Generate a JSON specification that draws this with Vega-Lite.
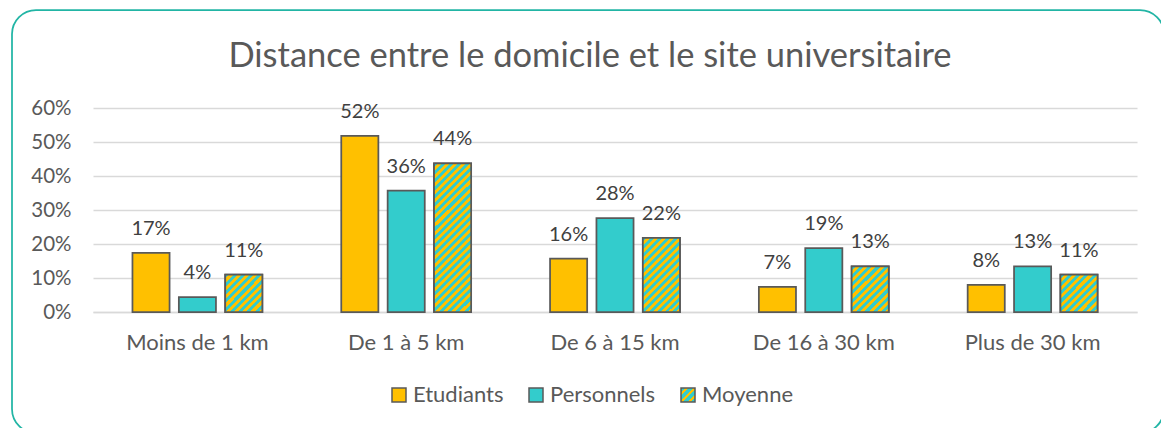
{
  "$schema": "https://vega.github.io/schema/vega-lite/v6.json",
  "width": 1152,
  "height": 423,
  "autosize": {"type": "none"},
  "padding": {"left": 12, "top": 10, "right": -3, "bottom": -5},
  "background": "white",
  "title": {
    "text": "Distance entre le domicile et le site universitaire",
    "fontSize": 34.5,
    "font": "Lato",
    "fontWeight": "normal",
    "color": "#595959",
    "anchor": "middle",
    "offset": -64,
    "dx": 2
  },
  "data": {
    "values": [
      {"category": "Moins de 1 km", "series": "Etudiants", "value": 0.174},
      {"category": "Moins de 1 km", "series": "Personnels", "value": 0.044},
      {"category": "Moins de 1 km", "series": "Moyenne", "value": 0.110},
      {"category": "De 1 à 5 km", "series": "Etudiants", "value": 0.518},
      {"category": "De 1 à 5 km", "series": "Personnels", "value": 0.357},
      {"category": "De 1 à 5 km", "series": "Moyenne", "value": 0.437},
      {"category": "De 6 à 15 km", "series": "Etudiants", "value": 0.157},
      {"category": "De 6 à 15 km", "series": "Personnels", "value": 0.276},
      {"category": "De 6 à 15 km", "series": "Moyenne", "value": 0.218},
      {"category": "De 16 à 30 km", "series": "Etudiants", "value": 0.074},
      {"category": "De 16 à 30 km", "series": "Personnels", "value": 0.188},
      {"category": "De 16 à 30 km", "series": "Moyenne", "value": 0.134},
      {"category": "Plus de 30 km", "series": "Etudiants", "value": 0.080},
      {"category": "Plus de 30 km", "series": "Personnels", "value": 0.134},
      {"category": "Plus de 30 km", "series": "Moyenne", "value": 0.110}
    ]
  },
  "encoding": {
    "x": {
      "field": "category",
      "type": "nominal",
      "sort": ["Moins de 1 km", "De 1 à 5 km", "De 6 à 15 km", "De 16 à 30 km", "Plus de 30 km"],
      "scale": {"range": [81, 1125], "paddingInner": 0.378, "paddingOuter": 0.189},
      "axis": {
        "orient": "bottom",
        "offset": -121,
        "title": null,
        "labelAngle": 0,
        "domainColor": "#D9D9D9",
        "domainWidth": 1.5,
        "ticks": false,
        "tickSize": 0,
        "labelPadding": 20,
        "labelFont": "Lato",
        "labelFontSize": 22,
        "labelColor": "#595959",
        "grid": false
      }
    },
    "xOffset": {
      "field": "series",
      "type": "nominal",
      "sort": ["Etudiants", "Personnels", "Moyenne"],
      "scale": {"domain": ["Etudiants", "Personnels", "Moyenne"], "paddingInner": 0.2, "paddingOuter": 0}
    },
    "y": {
      "field": "value",
      "type": "quantitative",
      "scale": {"domain": [0, 0.6], "range": [302, 98], "nice": false, "zero": true},
      "axis": {
        "title": null,
        "format": ".0%",
        "values": [0, 0.1, 0.2, 0.3, 0.4, 0.5, 0.6],
        "grid": true,
        "gridColor": "#D9D9D9",
        "gridWidth": 1.5,
        "domain": false,
        "ticks": false,
        "tickSize": 0,
        "labelPadding": 2,
        "offset": -61,
        "labelFont": "Lato",
        "labelFontSize": 20.5,
        "labelColor": "#595959"
      }
    }
  },
  "layer": [
    {
      "mark": {"type": "bar", "stroke": "#595959", "strokeWidth": 1.75},
      "encoding": {
        "color": {
          "field": "series",
          "type": "nominal",
          "scale": {
            "domain": ["Etudiants", "Personnels", "Moyenne"],
            "range": [
              "#FFC000",
              "#33CCCC",
              {"expr": "{gradient: 'linear', x1: 0, y1: 0, x2: 1, y2: 1, stops: [{offset: 0, color: '#33CCCC'}, {offset: 0.1429, color: '#33CCCC'}, {offset: 0.1429, color: '#FFC000'}, {offset: 0.2857, color: '#FFC000'}, {offset: 0.2857, color: '#33CCCC'}, {offset: 0.4286, color: '#33CCCC'}, {offset: 0.4286, color: '#FFC000'}, {offset: 0.5714, color: '#FFC000'}, {offset: 0.5714, color: '#33CCCC'}, {offset: 0.7143, color: '#33CCCC'}, {offset: 0.7143, color: '#FFC000'}, {offset: 0.8571, color: '#FFC000'}, {offset: 0.8571, color: '#33CCCC'}, {offset: 1, color: '#33CCCC'}]}"}
            ]
          },
          "legend": {
            "title": null,
            "orient": "none",
            "legendX": 376,
            "legendY": 374,
            "direction": "horizontal",
            "symbolType": "square",
            "symbolSize": 196,
            "symbolStrokeWidth": 1.5,
            "symbolOpacity": 1,
            "labelFont": "Lato",
            "labelFontSize": 22,
            "labelColor": "#595959",
            "labelOffset": 3,
            "columnPadding": 21,
            "padding": 0,
            "encode": {
              "symbols": {
                "update": {
                  "stroke": {"value": "#595959"},
                  "strokeWidth": {"value": 1.5}
                }
              }
            }
          }
        }
      }
    },
    {
      "transform": [{"filter": "datum.series === 'Moyenne' && (datum.category === 'Moins de 1 km' || datum.category === 'Plus de 30 km')"}],
      "mark": {
        "type": "bar", "stroke": "#595959", "strokeWidth": 1.75,
        "fill": {
          "gradient": "linear", "x1": 0, "y1": 0, "x2": 1, "y2": 1,
          "stops": [
            {"offset": 0, "color": "#33CCCC"}, {"offset": 0.0556, "color": "#33CCCC"},
            {"offset": 0.0556, "color": "#FFC000"}, {"offset": 0.1111, "color": "#FFC000"},
            {"offset": 0.1111, "color": "#33CCCC"}, {"offset": 0.1667, "color": "#33CCCC"},
            {"offset": 0.1667, "color": "#FFC000"}, {"offset": 0.2222, "color": "#FFC000"},
            {"offset": 0.2222, "color": "#33CCCC"}, {"offset": 0.2778, "color": "#33CCCC"},
            {"offset": 0.2778, "color": "#FFC000"}, {"offset": 0.3333, "color": "#FFC000"},
            {"offset": 0.3333, "color": "#33CCCC"}, {"offset": 0.3889, "color": "#33CCCC"},
            {"offset": 0.3889, "color": "#FFC000"}, {"offset": 0.4444, "color": "#FFC000"},
            {"offset": 0.4444, "color": "#33CCCC"}, {"offset": 0.5, "color": "#33CCCC"},
            {"offset": 0.5, "color": "#FFC000"}, {"offset": 0.5556, "color": "#FFC000"},
            {"offset": 0.5556, "color": "#33CCCC"}, {"offset": 0.6111, "color": "#33CCCC"},
            {"offset": 0.6111, "color": "#FFC000"}, {"offset": 0.6667, "color": "#FFC000"},
            {"offset": 0.6667, "color": "#33CCCC"}, {"offset": 0.7222, "color": "#33CCCC"},
            {"offset": 0.7222, "color": "#FFC000"}, {"offset": 0.7778, "color": "#FFC000"},
            {"offset": 0.7778, "color": "#33CCCC"}, {"offset": 0.8333, "color": "#33CCCC"},
            {"offset": 0.8333, "color": "#FFC000"}, {"offset": 0.8889, "color": "#FFC000"},
            {"offset": 0.8889, "color": "#33CCCC"}, {"offset": 0.9444, "color": "#33CCCC"},
            {"offset": 0.9444, "color": "#FFC000"}, {"offset": 1, "color": "#FFC000"}
          ]
        }
      }
    },
    {
      "transform": [{"filter": "datum.series === 'Moyenne' && datum.category === 'De 16 à 30 km'"}],
      "mark": {
        "type": "bar", "stroke": "#595959", "strokeWidth": 1.75,
        "fill": {
          "gradient": "linear", "x1": 0, "y1": 0, "x2": 0.886, "y2": 1.092,
          "stops": [
            {"offset": 0, "color": "#33CCCC"}, {"offset": 0.05, "color": "#33CCCC"},
            {"offset": 0.05, "color": "#FFC000"}, {"offset": 0.1, "color": "#FFC000"},
            {"offset": 0.1, "color": "#33CCCC"}, {"offset": 0.15, "color": "#33CCCC"},
            {"offset": 0.15, "color": "#FFC000"}, {"offset": 0.2, "color": "#FFC000"},
            {"offset": 0.2, "color": "#33CCCC"}, {"offset": 0.25, "color": "#33CCCC"},
            {"offset": 0.25, "color": "#FFC000"}, {"offset": 0.3, "color": "#FFC000"},
            {"offset": 0.3, "color": "#33CCCC"}, {"offset": 0.35, "color": "#33CCCC"},
            {"offset": 0.35, "color": "#FFC000"}, {"offset": 0.4, "color": "#FFC000"},
            {"offset": 0.4, "color": "#33CCCC"}, {"offset": 0.45, "color": "#33CCCC"},
            {"offset": 0.45, "color": "#FFC000"}, {"offset": 0.5, "color": "#FFC000"},
            {"offset": 0.5, "color": "#33CCCC"}, {"offset": 0.55, "color": "#33CCCC"},
            {"offset": 0.55, "color": "#FFC000"}, {"offset": 0.6, "color": "#FFC000"},
            {"offset": 0.6, "color": "#33CCCC"}, {"offset": 0.65, "color": "#33CCCC"},
            {"offset": 0.65, "color": "#FFC000"}, {"offset": 0.7, "color": "#FFC000"},
            {"offset": 0.7, "color": "#33CCCC"}, {"offset": 0.75, "color": "#33CCCC"},
            {"offset": 0.75, "color": "#FFC000"}, {"offset": 0.8, "color": "#FFC000"},
            {"offset": 0.8, "color": "#33CCCC"}, {"offset": 0.85, "color": "#33CCCC"},
            {"offset": 0.85, "color": "#FFC000"}, {"offset": 0.9, "color": "#FFC000"},
            {"offset": 0.9, "color": "#33CCCC"}, {"offset": 0.95, "color": "#33CCCC"},
            {"offset": 0.95, "color": "#FFC000"}, {"offset": 1, "color": "#FFC000"}
          ]
        }
      }
    },
    {
      "transform": [{"filter": "datum.series === 'Moyenne' && datum.category === 'De 6 à 15 km'"}],
      "mark": {
        "type": "bar", "stroke": "#595959", "strokeWidth": 1.75,
        "fill": {
          "gradient": "linear", "x1": 0, "y1": 0, "x2": 0.599, "y2": 1.2,
          "stops": [
            {"offset": 0, "color": "#33CCCC"}, {"offset": 0.0357, "color": "#33CCCC"},
            {"offset": 0.0357, "color": "#FFC000"}, {"offset": 0.0714, "color": "#FFC000"},
            {"offset": 0.0714, "color": "#33CCCC"}, {"offset": 0.1071, "color": "#33CCCC"},
            {"offset": 0.1071, "color": "#FFC000"}, {"offset": 0.1429, "color": "#FFC000"},
            {"offset": 0.1429, "color": "#33CCCC"}, {"offset": 0.1786, "color": "#33CCCC"},
            {"offset": 0.1786, "color": "#FFC000"}, {"offset": 0.2143, "color": "#FFC000"},
            {"offset": 0.2143, "color": "#33CCCC"}, {"offset": 0.25, "color": "#33CCCC"},
            {"offset": 0.25, "color": "#FFC000"}, {"offset": 0.2857, "color": "#FFC000"},
            {"offset": 0.2857, "color": "#33CCCC"}, {"offset": 0.3214, "color": "#33CCCC"},
            {"offset": 0.3214, "color": "#FFC000"}, {"offset": 0.3571, "color": "#FFC000"},
            {"offset": 0.3571, "color": "#33CCCC"}, {"offset": 0.3929, "color": "#33CCCC"},
            {"offset": 0.3929, "color": "#FFC000"}, {"offset": 0.4286, "color": "#FFC000"},
            {"offset": 0.4286, "color": "#33CCCC"}, {"offset": 0.4643, "color": "#33CCCC"},
            {"offset": 0.4643, "color": "#FFC000"}, {"offset": 0.5, "color": "#FFC000"},
            {"offset": 0.5, "color": "#33CCCC"}, {"offset": 0.5357, "color": "#33CCCC"},
            {"offset": 0.5357, "color": "#FFC000"}, {"offset": 0.5714, "color": "#FFC000"},
            {"offset": 0.5714, "color": "#33CCCC"}, {"offset": 0.6071, "color": "#33CCCC"},
            {"offset": 0.6071, "color": "#FFC000"}, {"offset": 0.6429, "color": "#FFC000"},
            {"offset": 0.6429, "color": "#33CCCC"}, {"offset": 0.6786, "color": "#33CCCC"},
            {"offset": 0.6786, "color": "#FFC000"}, {"offset": 0.7143, "color": "#FFC000"},
            {"offset": 0.7143, "color": "#33CCCC"}, {"offset": 0.75, "color": "#33CCCC"},
            {"offset": 0.75, "color": "#FFC000"}, {"offset": 0.7857, "color": "#FFC000"},
            {"offset": 0.7857, "color": "#33CCCC"}, {"offset": 0.8214, "color": "#33CCCC"},
            {"offset": 0.8214, "color": "#FFC000"}, {"offset": 0.8571, "color": "#FFC000"},
            {"offset": 0.8571, "color": "#33CCCC"}, {"offset": 0.8929, "color": "#33CCCC"},
            {"offset": 0.8929, "color": "#FFC000"}, {"offset": 0.9286, "color": "#FFC000"},
            {"offset": 0.9286, "color": "#33CCCC"}, {"offset": 0.9643, "color": "#33CCCC"},
            {"offset": 0.9643, "color": "#FFC000"}, {"offset": 1, "color": "#FFC000"}
          ]
        }
      }
    },
    {
      "transform": [{"filter": "datum.series === 'Moyenne' && datum.category === 'De 1 à 5 km'"}],
      "mark": {
        "type": "bar", "stroke": "#595959", "strokeWidth": 1.75,
        "fill": {
          "gradient": "linear", "x1": 0, "y1": 0, "x2": 0.293, "y2": 1.176,
          "stops": [
            {"offset": 0, "color": "#33CCCC"}, {"offset": 0.0217, "color": "#33CCCC"},
            {"offset": 0.0217, "color": "#FFC000"}, {"offset": 0.0435, "color": "#FFC000"},
            {"offset": 0.0435, "color": "#33CCCC"}, {"offset": 0.0652, "color": "#33CCCC"},
            {"offset": 0.0652, "color": "#FFC000"}, {"offset": 0.087, "color": "#FFC000"},
            {"offset": 0.087, "color": "#33CCCC"}, {"offset": 0.1087, "color": "#33CCCC"},
            {"offset": 0.1087, "color": "#FFC000"}, {"offset": 0.1304, "color": "#FFC000"},
            {"offset": 0.1304, "color": "#33CCCC"}, {"offset": 0.1522, "color": "#33CCCC"},
            {"offset": 0.1522, "color": "#FFC000"}, {"offset": 0.1739, "color": "#FFC000"},
            {"offset": 0.1739, "color": "#33CCCC"}, {"offset": 0.1957, "color": "#33CCCC"},
            {"offset": 0.1957, "color": "#FFC000"}, {"offset": 0.2174, "color": "#FFC000"},
            {"offset": 0.2174, "color": "#33CCCC"}, {"offset": 0.2391, "color": "#33CCCC"},
            {"offset": 0.2391, "color": "#FFC000"}, {"offset": 0.2609, "color": "#FFC000"},
            {"offset": 0.2609, "color": "#33CCCC"}, {"offset": 0.2826, "color": "#33CCCC"},
            {"offset": 0.2826, "color": "#FFC000"}, {"offset": 0.3043, "color": "#FFC000"},
            {"offset": 0.3043, "color": "#33CCCC"}, {"offset": 0.3261, "color": "#33CCCC"},
            {"offset": 0.3261, "color": "#FFC000"}, {"offset": 0.3478, "color": "#FFC000"},
            {"offset": 0.3478, "color": "#33CCCC"}, {"offset": 0.3696, "color": "#33CCCC"},
            {"offset": 0.3696, "color": "#FFC000"}, {"offset": 0.3913, "color": "#FFC000"},
            {"offset": 0.3913, "color": "#33CCCC"}, {"offset": 0.413, "color": "#33CCCC"},
            {"offset": 0.413, "color": "#FFC000"}, {"offset": 0.4348, "color": "#FFC000"},
            {"offset": 0.4348, "color": "#33CCCC"}, {"offset": 0.4565, "color": "#33CCCC"},
            {"offset": 0.4565, "color": "#FFC000"}, {"offset": 0.4783, "color": "#FFC000"},
            {"offset": 0.4783, "color": "#33CCCC"}, {"offset": 0.5, "color": "#33CCCC"},
            {"offset": 0.5, "color": "#FFC000"}, {"offset": 0.5217, "color": "#FFC000"},
            {"offset": 0.5217, "color": "#33CCCC"}, {"offset": 0.5435, "color": "#33CCCC"},
            {"offset": 0.5435, "color": "#FFC000"}, {"offset": 0.5652, "color": "#FFC000"},
            {"offset": 0.5652, "color": "#33CCCC"}, {"offset": 0.587, "color": "#33CCCC"},
            {"offset": 0.587, "color": "#FFC000"}, {"offset": 0.6087, "color": "#FFC000"},
            {"offset": 0.6087, "color": "#33CCCC"}, {"offset": 0.6304, "color": "#33CCCC"},
            {"offset": 0.6304, "color": "#FFC000"}, {"offset": 0.6522, "color": "#FFC000"},
            {"offset": 0.6522, "color": "#33CCCC"}, {"offset": 0.6739, "color": "#33CCCC"},
            {"offset": 0.6739, "color": "#FFC000"}, {"offset": 0.6957, "color": "#FFC000"},
            {"offset": 0.6957, "color": "#33CCCC"}, {"offset": 0.7174, "color": "#33CCCC"},
            {"offset": 0.7174, "color": "#FFC000"}, {"offset": 0.7391, "color": "#FFC000"},
            {"offset": 0.7391, "color": "#33CCCC"}, {"offset": 0.7609, "color": "#33CCCC"},
            {"offset": 0.7609, "color": "#FFC000"}, {"offset": 0.7826, "color": "#FFC000"},
            {"offset": 0.7826, "color": "#33CCCC"}, {"offset": 0.8043, "color": "#33CCCC"},
            {"offset": 0.8043, "color": "#FFC000"}, {"offset": 0.8261, "color": "#FFC000"},
            {"offset": 0.8261, "color": "#33CCCC"}, {"offset": 0.8478, "color": "#33CCCC"},
            {"offset": 0.8478, "color": "#FFC000"}, {"offset": 0.8696, "color": "#FFC000"},
            {"offset": 0.8696, "color": "#33CCCC"}, {"offset": 0.8913, "color": "#33CCCC"},
            {"offset": 0.8913, "color": "#FFC000"}, {"offset": 0.913, "color": "#FFC000"},
            {"offset": 0.913, "color": "#33CCCC"}, {"offset": 0.9348, "color": "#33CCCC"},
            {"offset": 0.9348, "color": "#FFC000"}, {"offset": 0.9565, "color": "#FFC000"},
            {"offset": 0.9565, "color": "#33CCCC"}, {"offset": 0.9783, "color": "#33CCCC"},
            {"offset": 0.9783, "color": "#FFC000"}, {"offset": 1, "color": "#FFC000"}
          ]
        }
      }
    },
    {
      "mark": {"type": "text", "baseline": "middle", "dy": -24, "font": "Lato", "fontSize": 20, "color": "#404040"},
      "encoding": {
        "text": {"field": "value", "type": "quantitative", "format": ".0%"}
      }
    }
  ],
  "config": {
    "view": {"stroke": "#22B5A5", "strokeWidth": 1.75, "cornerRadius": 24},
    "font": "Lato"
  }
}
